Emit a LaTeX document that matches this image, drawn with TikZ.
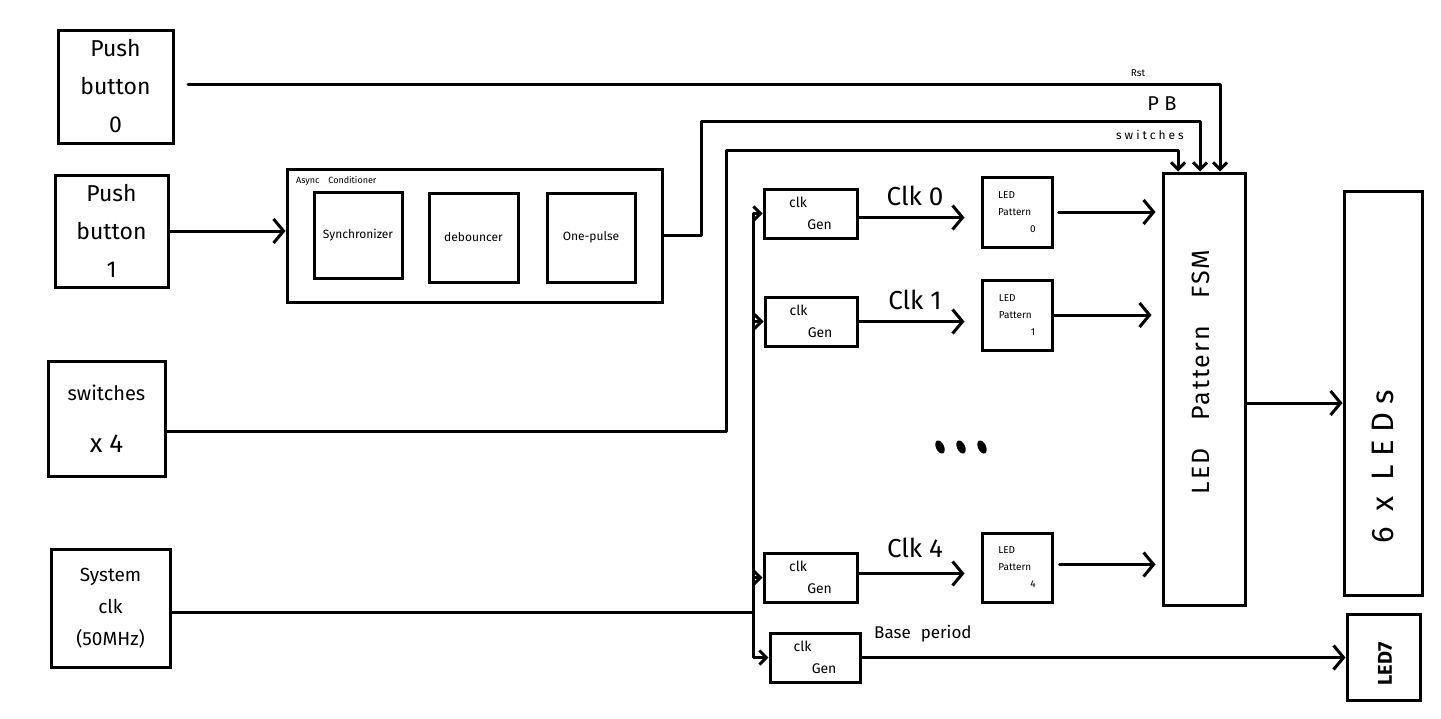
\documentclass[tikz,border=0pt]{standalone}
\usepackage{fontspec}
\setmainfont{Fira Sans}
\usetikzlibrary{arrows.meta}

\newcommand{\fs}[2]{\fontsize{#1}{#2}\selectfont}

\tikzset{
  box/.style={draw, line width=3pt, rectangle, inner sep=0pt, align=center},
  wire/.style={line width=3pt, line cap=round, line join=round},
  arr/.style={wire, -{Straight Barb[length=10pt,width=24pt,line width=3pt]}},
  tip/.style={wire, -{Straight Barb[length=7pt,width=14pt,line width=3pt]}},
  lbl/.style={inner sep=0pt, align=center}
}

\begin{document}
\begin{tikzpicture}[x=1pt,y=-1pt]
  \useasboundingbox[fill=white] (0,0) rectangle (1441,718);

  % inputs
  \node[box, minimum width=115pt, minimum height=113pt, font=\fs{23}{38}] (pb0) at (115.5,86.5) {Push\\button\\0};
  \node[box, minimum width=113pt, minimum height=112pt, font=\fs{23}{38}] (pb1) at (111.5,231) {Push\\button\\1};
  \node[box, minimum width=117pt, minimum height=115pt, font=\fs{20}{52}] (sw) at (106.5,418.5) {switches\\{\fs{26}{52}x 4}};
  \node[box, minimum width=119pt, minimum height=118pt, font=\fs{19}{32}] (sys) at (110.5,608) {System\\clk\\(50MHz)};

  % async conditioner
  \node[box, minimum width=375pt, minimum height=133pt] (cond) at (474.5,235.5) {};
  \node[lbl, anchor=west, font=\fs{9}{10}] (condlbl) at (296,181) {Async\quad Conditioner};
  \node[box, minimum width=88pt, minimum height=86pt, font=\fs{12}{13}] (sync) at (358,235) {Synchronizer};
  \node[box, minimum width=89pt, minimum height=89pt, font=\fs{12}{13}] (deb) at (473.5,237.5) {debouncer};
  \node[box, minimum width=88pt, minimum height=89pt, font=\fs{12}{13}] (op) at (591,237.5) {One-pulse};

  % clock generators
  \node[box, minimum width=93pt, minimum height=49pt, align=left, font=\fs{14}{22}] (cg0) at (810.5,213.5) {clk\\\hspace*{1.3em}Gen};
  \node[box, minimum width=92pt, minimum height=49pt, align=left, font=\fs{14}{22}] (cg1) at (811,321.5) {clk\\\hspace*{1.3em}Gen};
  \node[box, minimum width=93pt, minimum height=49pt, align=left, font=\fs{14}{22}] (cg4) at (810.5,577.5) {clk\\\hspace*{1.3em}Gen};
  \node[box, minimum width=90pt, minimum height=49pt, align=left, font=\fs{14}{22}] (cgb) at (815,657.5) {clk\\\hspace*{1.3em}Gen};

  % LED pattern blocks
  \node[box, minimum width=70pt, minimum height=70pt, align=left, font=\fs{10}{17}] (lp0) at (1017,212) {LED\\Pattern\\\hspace*{3.2em}0};
  \node[box, minimum width=70pt, minimum height=70pt, align=left, font=\fs{10}{17}] (lp1) at (1017,315) {LED\\Pattern\\\hspace*{3.2em}1};
  \node[box, minimum width=70pt, minimum height=69pt, align=left, font=\fs{10}{17}] (lp4) at (1017,567.5) {LED\\Pattern\\\hspace*{3.2em}4};
  % ellipsis between the pattern rows
  \foreach \dx in {-21,0,21}
    \fill[rotate around={25:(961+\dx,447)}] (961+\dx,447) ellipse (4pt and 7pt);

  % FSM and outputs
  \node[box, minimum width=82pt, minimum height=432pt] (fsm) at (1204,389) {};
  \node[lbl, rotate=90, font=\fs{25}{25}\addfontfeatures{LetterSpace=8}] (fsmlbl) at (1201,372) {LED\hspace{28pt}Pattern\hspace{28pt}FSM};
  \node[box, minimum width=78pt, minimum height=404pt] (leds) at (1383,393) {};
  \node[lbl, rotate=90, font=\fs{31}{31}\addfontfeatures{LetterSpace=25}] (ledslbl) at (1383,467) {6 x LEDs};
  \node[box, minimum width=73pt, minimum height=86pt] (led7) at (1383.5,657) {};
  \node[lbl, rotate=90, font=\fs{20}{20}\bfseries] (led7lbl) at (1385,664) {LED7};

  % control lines into the FSM
  \coordinate (rstA) at (188,84);
  \draw[tip] (rstA) -| ([xshift=16]fsm.north);
  \node[lbl, font=\fs{10}{10}] (rstlbl) at (1138,73) {Rst};

  \coordinate (pbT) at (701,121);
  \draw[tip] (cond.east) -- (cond.east -| pbT) -- (pbT) -| ([xshift=-4]fsm.north);
  \node[lbl, font=\fs{20}{20}] (pblbl) at (1162,104) {P B};

  \coordinate (swT) at (726,150);
  \draw[tip] ([yshift=-13]sw.east) -| (swT) -| ([xshift=-26]fsm.north);
  \node[lbl, font=\fs{12}{12}\addfontfeatures{LetterSpace=25}] (swlbl) at (1150,135) {switches};

  % push button 1 into the conditioner
  \draw[arr] (pb1.east) -- (pb1.east -| cond.west);

  % system clock bus
  \coordinate (sysj) at (753,612);
  \draw[wire] ([yshift=-4]sys.east) -- (sysj);
  \draw[tip] (sysj) |- (cg0.west);
  \draw[tip] (sysj) |- (cg1.west);
  \draw[tip] (sysj) |- (cg4.west);
  \draw[tip] (sysj) |- (cgb.west);

  % generated clocks
  \draw[arr] ([yshift=-4]cg0.east) -- ([xshift=-16,yshift=-4]cg0.east -| lp0.west);
  \node[lbl, font=\fs{26}{26}] (c0) at (915,196) {Clk 0};
  \draw[arr] (cg1.east) -- ([xshift=-16]cg1.east -| lp1.west);
  \node[lbl, font=\fs{26}{26}] (c1) at (915,300) {Clk 1};
  \draw[arr] ([yshift=4]cg4.east) -- ([xshift=-16,yshift=4]cg4.east -| lp4.west);
  \node[lbl, font=\fs{26}{26}] (c4) at (915,548) {Clk 4};
  \draw[arr] (cgb.east) -- (cgb.east -| led7.west);
  \node[lbl, font=\fs{17}{17}, anchor=west] (bp) at (874,634) {Base\hspace{10pt}period};

  % pattern outputs into the FSM
  \draw[arr] ([xshift=5]lp0.east) -- ([xshift=-6]lp0.east -| fsm.west);
  \draw[arr] (lp1.east) -- ([xshift=-10]lp1.east -| fsm.west);
  \draw[arr] ([xshift=6,yshift=3]lp4.east) -- ([xshift=-6,yshift=3]lp4.east -| fsm.west);

  % FSM to LEDs
  \draw[arr] ([yshift=-14]fsm.east) -- ([yshift=-14]fsm.east -| leds.west);
\end{tikzpicture}
\end{document}
